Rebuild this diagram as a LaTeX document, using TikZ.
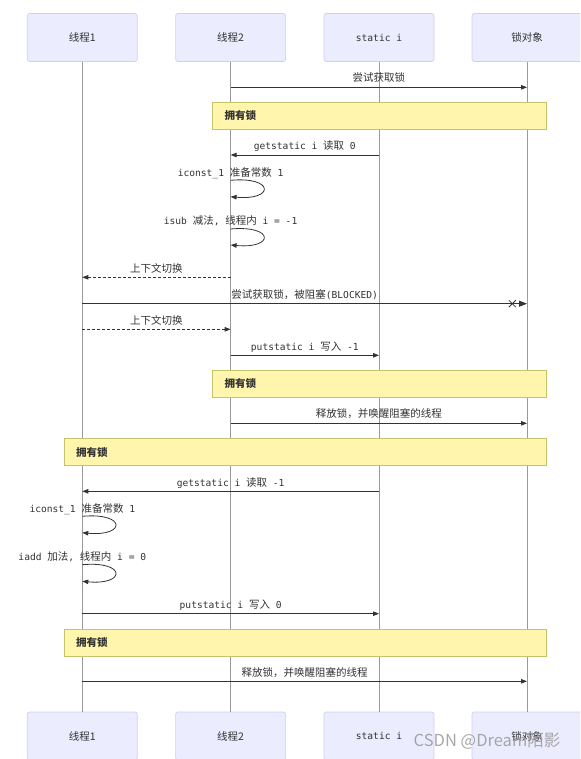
\documentclass[tikz,border=0pt]{standalone}
\usepackage{fontspec}
\setmainfont{Noto Sans CJK SC}
\newfontfamily\monof[Scale=0.914]{DejaVu Sans Mono}
\newcommand\mtx[1]{{\monof #1}}
\usetikzlibrary{arrows.meta}
\definecolor{actfill}{HTML}{ECECFF}
\definecolor{actdraw}{HTML}{CFCFF5}
\definecolor{notefill}{HTML}{FFF5AD}
\definecolor{notedraw}{HTML}{C4C46A}
\definecolor{lifec}{HTML}{999999}
\definecolor{msgc}{HTML}{333333}
\definecolor{txt}{HTML}{333333}
\begin{document}
\begin{tikzpicture}[x=1pt,y=-1pt,
  actor/.style={draw=actdraw, fill=actfill, rounded corners=2.5pt, line width=0.7pt,
    minimum width=110pt, minimum height=48pt, inner sep=0pt, text=txt,
    font=\fontsize{10.5}{12}\selectfont},
  life/.style={draw=lifec, line width=0.7pt},
  msgline/.style={draw=msgc, line width=0.8pt, -{Triangle[length=6pt,width=4.5pt]}},
  dashmsg/.style={msgline, dash pattern=on 3pt off 2pt},
  lbl/.style={text=txt, inner sep=0pt, font=\fontsize{10.5}{12}\selectfont},
  notebox/.style={draw=notedraw, fill=notefill, line width=0.7pt, anchor=north west, inner sep=0pt},
  notetext/.style={text=txt, inner sep=0pt, anchor=west, font=\fontsize{10.5}{12}\selectfont\bfseries},
  crossline/.style={draw=msgc, line width=0.8pt}
]
\useasboundingbox (0,0) rectangle (580,759);
\clip (0,0) rectangle (580,759);
\fill[white] (0,0) rectangle (580,759);

% actors top
\node[actor] (t1) at (82.3,37.5) {线程1};
\node[actor] (t2) at (230.6,37.5) {线程2};
\node[actor] (t3) at (379,37.5) {\mtx{static i}};
\node[actor] (t4) at (527,37.5) {锁对象};
% actors bottom
\node[actor] (b1) at (82.3,736) {线程1};
\node[actor] (b2) at (230.6,736) {线程2};
\node[actor] (b3) at (379,736) {\mtx{static i}};
\node[actor] (b4) at (527,736) {锁对象};

% lifelines
\draw[life] (t1.south) -- (b1.north);
\draw[life] (t2.south) -- (b2.north);
\draw[life] (t3.south) -- (b3.north);
\draw[life] (t4.south) -- (b4.north);

% notes
\node[notebox, minimum width=333.4pt, minimum height=27.3pt] (n1) at (212.3,102) {};
\node[notetext] (n1t) at ([xshift=12pt]n1.west) {拥有锁};
\node[notebox, minimum width=333.4pt, minimum height=27.6pt] (n2) at (212.3,369.7) {};
\node[notetext] (n2t) at ([xshift=12pt]n2.west) {拥有锁};
\node[notebox, minimum width=481.7pt, minimum height=27pt] (n3) at (64,438.3) {};
\node[notetext] (n3t) at ([xshift=12pt]n3.west) {拥有锁};
\node[notebox, minimum width=481.7pt, minimum height=27.3pt] (n4) at (64,628.7) {};
\node[notetext] (n4t) at ([xshift=12pt]n4.west) {拥有锁};

% message end points
\coordinate (m1a) at (230.6,87.3);  \coordinate (m1b) at (527,87.3);
\coordinate (m2a) at (379,155);     \coordinate (m2b) at (230.6,155);
\coordinate (l1a) at (230.6,180.3); \coordinate (l1b) at (230.6,196.7);
\coordinate (l1t) at (230.6,173);
\coordinate (l2a) at (230.6,229);   \coordinate (l2b) at (230.6,245);
\coordinate (l2t) at (230.6,220.7);
\coordinate (m3a) at (230.6,277.3); \coordinate (m3b) at (82.3,277.3);
\coordinate (m4a) at (82.3,303.7);  \coordinate (m4b) at (527,303.7);
\coordinate (cx) at (512.3,303.7);
\coordinate (m5a) at (82.3,329.3);  \coordinate (m5b) at (230.6,329.3);
\coordinate (m6a) at (230.6,355.3); \coordinate (m6b) at (379,355.3);
\coordinate (m7a) at (230.6,423.3); \coordinate (m7b) at (527,423.3);
\coordinate (m8a) at (379,491.3);   \coordinate (m8b) at (82.3,491.3);
\coordinate (l3a) at (82.3,516.3);  \coordinate (l3b) at (82.3,532.7);
\coordinate (l3t) at (82.3,509);
\coordinate (l4a) at (82.3,564.7);  \coordinate (l4b) at (82.3,581.3);
\coordinate (l4t) at (82.3,556.7);
\coordinate (m9a) at (82.3,613.7);  \coordinate (m9b) at (379,613.7);
\coordinate (m10a) at (82.3,681.3); \coordinate (m10b) at (527,681.3);

% messages
\draw[msgline] (m1a) -- node[lbl, yshift=9.5pt] (m1l) {尝试获取锁} (m1b);
\draw[msgline] (m2a) -- node[lbl, yshift=8.5pt] (m2l) {\mtx{getstatic i }读取\mtx{\ 0}} (m2b);
\draw[msgline] (l1a) .. controls +(44,-4) and +(44,4) .. (l1b);
\node[lbl] (l1l) at (l1t) {\mtx{iconst\_1 }准备常数\mtx{\ 1}};
\draw[msgline] (l2a) .. controls +(44,-4) and +(44,4) .. (l2b);
\node[lbl] (l2l) at (l2t) {\mtx{isub }减法\mtx{, }线程内\mtx{\ i = -1}};
\draw[dashmsg] (m3a) -- node[lbl, yshift=9.3pt] (m3l) {上下文切换} (m3b);
\draw[msgline, -{Triangle[length=8pt,width=6pt]}] (m4a) -- node[lbl, yshift=9.4pt] (m4l) {尝试获取锁，被阻塞\mtx{(BLOCKED)}} (m4b);
\draw[crossline] ([shift={(-3.5,-3.5)}]cx) -- ([shift={(3.5,3.5)}]cx);
\draw[crossline] ([shift={(-3.5,3.5)}]cx) -- ([shift={(3.5,-3.5)}]cx);
\draw[dashmsg] (m5a) -- node[lbl, yshift=8.6pt] (m5l) {上下文切换} (m5b);
\draw[msgline] (m6a) -- node[lbl, yshift=8.3pt] (m6l) {\mtx{putstatic i }写入\mtx{\ -1}} (m6b);
\draw[msgline] (m7a) -- node[lbl, yshift=9.3pt] (m7l) {释放锁，并唤醒阻塞的线程} (m7b);
\draw[msgline] (m8a) -- node[lbl, yshift=8.3pt] (m8l) {\mtx{getstatic i }读取\mtx{\ -1}} (m8b);
\draw[msgline] (l3a) .. controls +(44,-4) and +(44,4) .. (l3b);
\node[lbl] (l3l) at (l3t) {\mtx{iconst\_1 }准备常数\mtx{\ 1}};
\draw[msgline] (l4a) .. controls +(44,-4) and +(44,4) .. (l4b);
\node[lbl] (l4l) at (l4t) {\mtx{iadd }加法\mtx{, }线程内\mtx{\ i = 0}};
\draw[msgline] (m9a) -- node[lbl, yshift=8.7pt] (m9l) {\mtx{putstatic i }写入\mtx{\ 0}} (m9b);
\draw[msgline] (m10a) -- node[lbl, yshift=8.6pt] (m10l) {释放锁，并唤醒阻塞的线程} (m10b);

% watermark
\node[text=gray!80, opacity=0.85, inner sep=0pt, font=\fontsize{16.5}{19}\selectfont] (wm) at (487,741) {CSDN @Dream陌影};
\end{tikzpicture}
\end{document}
